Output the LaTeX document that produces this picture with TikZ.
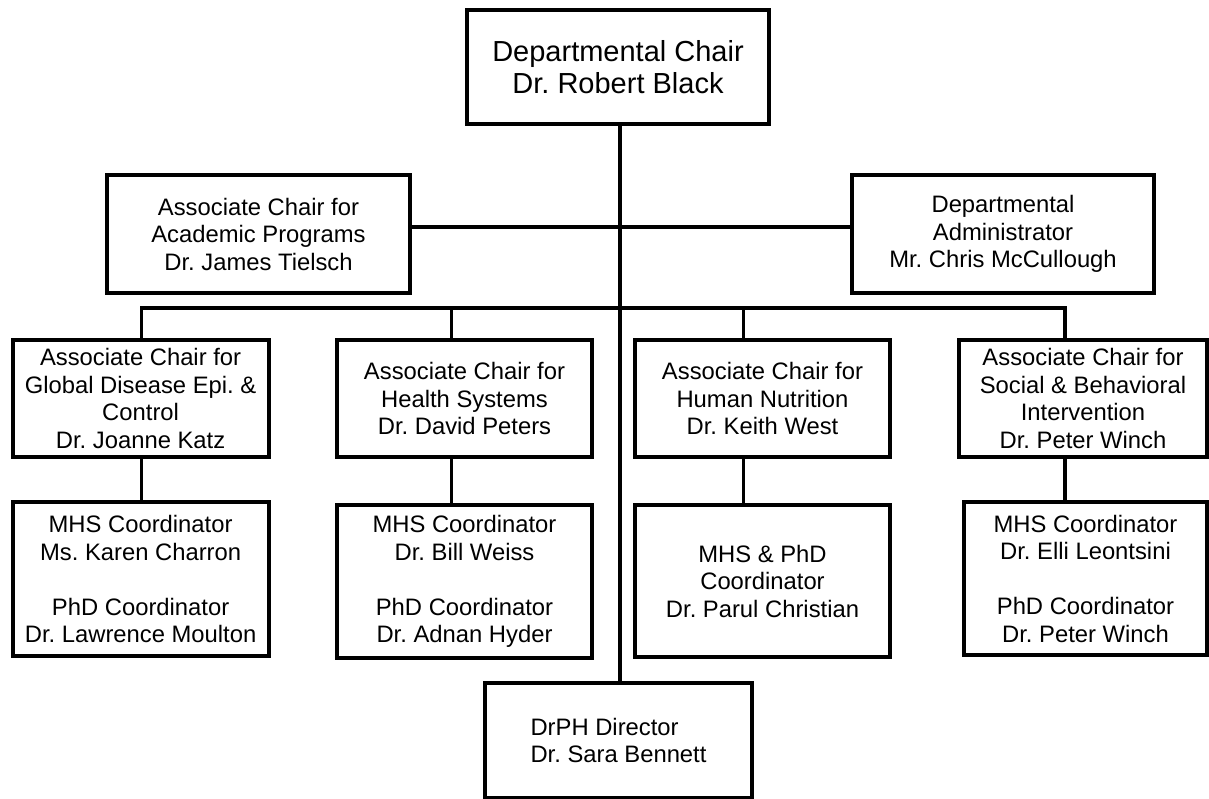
\documentclass[tikz,border=0pt]{standalone}
\usepackage{fontspec}
\setmainfont{Liberation Sans}
\frenchspacing
\begin{document}
\begin{tikzpicture}[x=1pt,y=-1pt,
  box/.style={draw,line width=4pt,rectangle,inner sep=0pt,outer sep=0pt,align=center,
    font=\fontsize{23.8}{27.5}\selectfont},
  link/.style={line width=3.2pt}]
\useasboundingbox (0,0) rectangle (1209,799);
% top
\node[box,minimum width=302pt,minimum height=114pt,font=\fontsize{29}{32}\selectfont] (chair) at (618,67) {Departmental Chair\\Dr. Robert Black};
\node[box,minimum width=303pt,minimum height=118pt] (acad) at (258.5,234) {Associate Chair for\\Academic Programs\\Dr. James Tielsch};
\node[box,minimum width=302pt,minimum height=118pt] (admin) at (1003,234) {Departmental\\Administrator\\Mr. Chris McCullough};
% row 3
\node[box,minimum width=256pt,minimum height=117pt] (gd) at (140.6,398.5) {Associate Chair for\\Global Disease Epi. \&\\Control\\Dr. Joanne Katz};
\node[box,minimum width=255pt,minimum height=117pt] (hs) at (464.5,398.5) {Associate Chair for\\Health Systems\\Dr. David Peters};
\node[box,minimum width=255pt,minimum height=117pt] (hn) at (762.5,398.5) {Associate Chair for\\Human Nutrition\\Dr. Keith West};
\node[box,minimum width=248pt,minimum height=117pt] (sb) at (1083,398.5) {Associate Chair for\\Social \& Behavioral\\Intervention\\Dr. Peter Winch};
% row 4
\node[box,minimum width=256pt,minimum height=154pt] (gdc) at (140.6,579) {MHS Coordinator\\Ms. Karen Charron\\[27.5pt]PhD Coordinator\\Dr. Lawrence Moulton};
\node[box,minimum width=255pt,minimum height=153pt] (hsc) at (464.5,581.5) {MHS Coordinator\\Dr. Bill Weiss\\[27.5pt]PhD Coordinator\\Dr. Adnan Hyder};
\node[box,minimum width=255pt,minimum height=152pt] (hnc) at (762.5,581) {MHS \& PhD\\Coordinator\\Dr. Parul Christian};
\node[box,minimum width=243pt,minimum height=153pt] (sbc) at (1085.5,578.5) {MHS Coordinator\\Dr. Elli Leontsini\\[27.5pt]PhD Coordinator\\Dr. Peter Winch};
% bottom
\node[box,align=left,minimum width=267pt,minimum height=115pt] (drph) at (618.5,740.5) {DrPH Director\\Dr. Sara Bennett};
% connectors
\coordinate (m) at (620,227);
\coordinate (b1) at (141.6,308);
\coordinate (b2) at (451.6,308);
\coordinate (b3) at (743.7,308);
\coordinate (b4) at (1065,308);
\draw[link] (m |- chair.south) -- (m |- drph.north);
\draw[link] (acad.east |- m) -- (admin.west |- m);
\draw[link] (b1 |- gd.north) -- (b1) -- (b4) -- (b4 |- sb.north);
\draw[link] (b2) -- (b2 |- hs.north);
\draw[link] (b3) -- (b3 |- hn.north);
\draw[link] (b1 |- gd.south) -- (b1 |- gdc.north);
\draw[link] (b2 |- hs.south) -- (b2 |- hsc.north);
\draw[link] (b3 |- hn.south) -- (b3 |- hnc.north);
\draw[link] (b4 |- sb.south) -- (b4 |- sbc.north);
\end{tikzpicture}
\end{document}
